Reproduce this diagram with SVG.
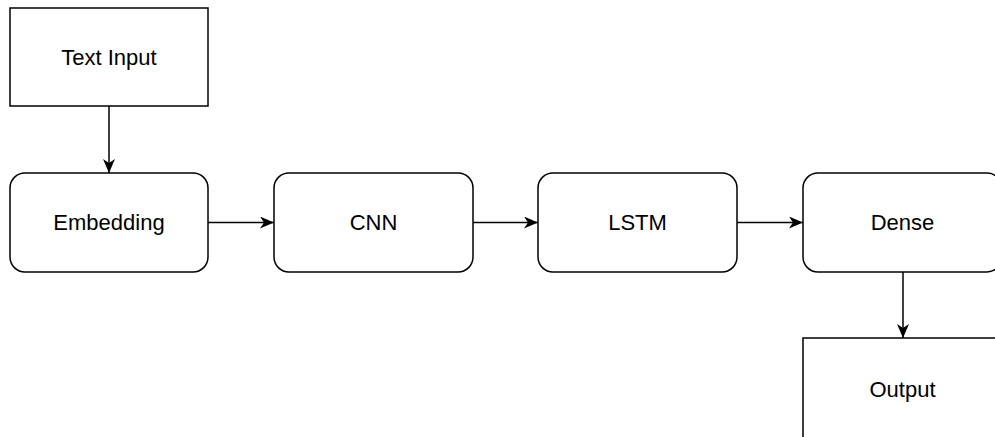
<svg xmlns="http://www.w3.org/2000/svg" width="995" height="437" viewBox="0 0 995 437">
  <style>
    .box { fill: #ffffff; stroke: #000000; stroke-width: 1.5; }
    .label { font-family: "Liberation Sans", Arial, sans-serif; font-size: 22px; fill: #000000; text-anchor: middle; }
    .edge { fill: none; stroke: #000000; stroke-width: 1.5; }
  </style>
  <defs>
    <marker id="arrow" viewBox="0 0 14 12" refX="14" refY="6" markerWidth="14" markerHeight="12" markerUnits="userSpaceOnUse" orient="auto">
      <path d="M0,0 L14,6 L0,12 L4,6 Z" fill="#000000"/>
    </marker>
  </defs>
  <rect width="995" height="437" fill="#ffffff"/>

  <g id="text-input">
    <rect class="box" x="10" y="8" width="198" height="98"/>
    <text class="label" x="109" y="65">Text Input</text>
  </g>
  <g id="embedding">
    <rect class="box" x="10" y="173" width="198" height="99" rx="15" ry="15"/>
    <text class="label" x="109" y="230">Embedding</text>
  </g>
  <g id="cnn">
    <rect class="box" x="274" y="173" width="199" height="99" rx="15" ry="15"/>
    <text class="label" x="373.5" y="230">CNN</text>
  </g>
  <g id="lstm">
    <rect class="box" x="538" y="173" width="199" height="99" rx="15" ry="15"/>
    <text class="label" x="637.5" y="230">LSTM</text>
  </g>
  <g id="dense">
    <rect class="box" x="803" y="173" width="199" height="99" rx="15" ry="15"/>
    <text class="label" x="902.5" y="230">Dense</text>
  </g>
  <g id="output">
    <rect class="box" x="803" y="338" width="199" height="120"/>
    <text class="label" x="902.5" y="397">Output</text>
  </g>

  <g id="connectors">
    <path class="edge" d="M109,106 L109,173" marker-end="url(#arrow)"/>
    <path class="edge" d="M208,222.5 L274,222.5" marker-end="url(#arrow)"/>
    <path class="edge" d="M473,222.5 L538,222.5" marker-end="url(#arrow)"/>
    <path class="edge" d="M737,222.5 L803,222.5" marker-end="url(#arrow)"/>
    <path class="edge" d="M903,272 L903,338" marker-end="url(#arrow)"/>
  </g>
</svg>
